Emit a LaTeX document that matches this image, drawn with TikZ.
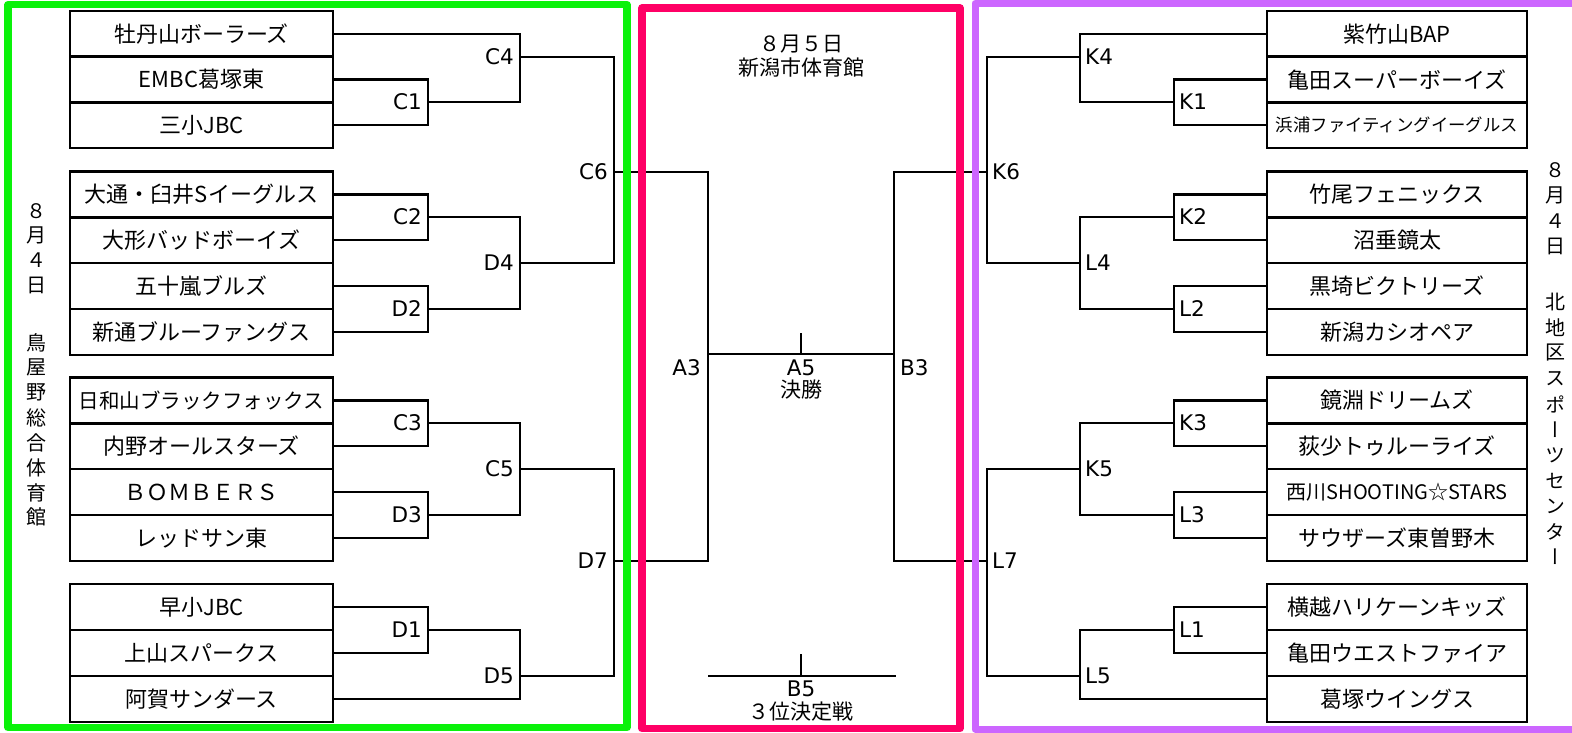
\documentclass[tikz,border=0pt]{standalone}
\usepackage{fontspec}
\setmainfont{Noto Sans CJK JP}
\newfontfamily\vfont[RawFeature=+vert]{Noto Sans CJK JP}
\newfontfamily\labfont{DejaVu Sans}
\definecolor{frgreen}{RGB}{10,242,10}
\definecolor{frpink}{RGB}{255,0,102}
\definecolor{frpurple}{RGB}{204,102,255}
\tikzset{
  team/.style={draw, line width=2.6pt, minimum width=263pt, minimum height=45.7pt, inner sep=0pt, font=\fontsize{22}{22}\selectfont},
  teamR/.style={team, minimum width=260pt},
  br/.style={line width=2.6pt},
  lblL/.style={anchor=east, inner sep=0pt, font={\labfont\fontsize{21.5}{21.5}\selectfont}},
  lblR/.style={anchor=west, inner sep=0pt, font={\labfont\fontsize{21.5}{21.5}\selectfont}},
  ctext/.style={inner sep=0pt, font=\fontsize{21}{21}\selectfont},
  clab/.style={inner sep=0pt, font={\labfont\fontsize{21.5}{21.5}\selectfont}},
  vchar/.style={inner sep=0pt, font={\vfont\fontsize{20}{20}\selectfont}},
  frame/.style={line width=7.3pt, line join=round}
}
\begin{document}
\begin{tikzpicture}[x=1pt,y=-1pt]
\useasboundingbox (0,0) rectangle (1572,732);
% ---------- left teams
\node[team] (tl1) at (201.5,34) {牡丹山ボーラーズ};
\node[team] (tl2) at (201.5,79.5) {EMBC葛塚東};
\node[team] (tl3) at (201.5,125) {三小JBC};
\node[team] (tl4) at (201.5,194.5) {大通・臼井Sイーグルス};
\node[team] (tl5) at (201.5,240) {大形バッドボーイズ};
\node[team] (tl6) at (201.5,286) {五十嵐ブルズ};
\node[team] (tl7) at (201.5,332) {新通ブルーファングス};
\node[team, font=\fontsize{20.5}{20.5}\selectfont] (tl8) at (201.5,400.5) {日和山ブラックフォックス};
\node[team] (tl9) at (201.5,446) {内野オールスターズ};
\node[team] (tl10) at (201.5,492) {ＢＯＭＢＥＲＳ};
\node[team] (tl11) at (201.5,538) {レッドサン東};
\node[team] (tl12) at (201.5,607) {早小JBC};
\node[team] (tl13) at (201.5,653) {上山スパークス};
\node[team] (tl14) at (201.5,699) {阿賀サンダース};
% ---------- right teams
\node[teamR] (tr1) at (1397,34) {紫竹山BAP};
\node[teamR] (tr2) at (1397,79.5) {亀田スーパーボーイズ};
\node[teamR, font=\fontsize{17.4}{17.4}\selectfont] (tr3) at (1397,125) {浜浦ファイティングイーグルス};
\node[teamR] (tr4) at (1397,194.5) {竹尾フェニックス};
\node[teamR] (tr5) at (1397,240) {沼垂鏡太};
\node[teamR] (tr6) at (1397,286) {黒埼ビクトリーズ};
\node[teamR] (tr7) at (1397,332) {新潟カシオペア};
\node[teamR] (tr8) at (1397,400.5) {鏡淵ドリームズ};
\node[teamR] (tr9) at (1397,446) {荻少トゥルーライズ};
\node[teamR, font=\fontsize{20}{20}\selectfont] (tr10) at (1397,492) {西川SHOOTING☆STARS};
\node[teamR] (tr11) at (1397,538) {サウザーズ東曽野木};
\node[teamR] (tr12) at (1397,607) {横越ハリケーンキッズ};
\node[teamR] (tr13) at (1397,653) {亀田ウエストファイア};
\node[teamR] (tr14) at (1397,699) {葛塚ウイングス};
% ---------- junctions left
\coordinate (C1) at (428,102);
\coordinate (C4) at (520,57);
\coordinate (C2) at (428,217);
\coordinate (D2) at (428,309);
\coordinate (D4) at (520,263);
\coordinate (C6) at (614,172);
\coordinate (C3) at (428,423);
\coordinate (D3) at (428,515);
\coordinate (C5) at (520,469);
\coordinate (D1) at (428,630);
\coordinate (D5) at (520,676);
\coordinate (D7) at (614,561);
% ---------- junctions centre
\coordinate (A3) at (708,354);
\coordinate (B3) at (894,354);
\coordinate (A5) at (801,354);
\coordinate (A5t) at (801,333);
\coordinate (B5l) at (708,676);
\coordinate (B5r) at (896,676);
\coordinate (B5) at (801,676);
\coordinate (B5t) at (801,654);
% ---------- junctions right
\coordinate (K1) at (1174,102);
\coordinate (K4) at (1080,57);
\coordinate (K2) at (1174,217);
\coordinate (L2) at (1174,309);
\coordinate (L4) at (1080,263);
\coordinate (K6) at (987,172);
\coordinate (K3) at (1174,423);
\coordinate (L3) at (1174,515);
\coordinate (K5) at (1080,469);
\coordinate (L1) at (1174,630);
\coordinate (L5) at (1080,676);
\coordinate (L7) at (987,561);
% ---------- left brackets
\draw[br] (tl2.east) -| (C1) |- (tl3.east);
\draw[br] (tl1.east) -| (C4) |- (C1);
\draw[br] (tl4.east) -| (C2) |- (tl5.east);
\draw[br] (tl6.east) -| (D2) |- (tl7.east);
\draw[br] (C2) -| (D4) |- (D2);
\draw[br] (C4) -| (C6) |- (D4);
\draw[br] (tl8.east) -| (C3) |- (tl9.east);
\draw[br] (tl10.east) -| (D3) |- (tl11.east);
\draw[br] (C3) -| (C5) |- (D3);
\draw[br] (tl12.east) -| (D1) |- (tl13.east);
\draw[br] (D1) -| (D5) |- (tl14.east);
\draw[br] (C5) -| (D7) |- (D5);
% ---------- centre
\draw[br] (C6) -| (A3) |- (D7);
\draw[br] (K6) -| (B3) |- (L7);
\draw[br] (A3) -- (B3);
\draw[br] (A5) -- (A5t);
\draw[br] (B5l) -- (B5r);
\draw[br] (B5) -- (B5t);
% ---------- right brackets
\draw[br] (tr2.west) -| (K1) |- (tr3.west);
\draw[br] (tr1.west) -| (K4) |- (K1);
\draw[br] (tr4.west) -| (K2) |- (tr5.west);
\draw[br] (tr6.west) -| (L2) |- (tr7.west);
\draw[br] (K2) -| (L4) |- (L2);
\draw[br] (K4) -| (K6) |- (L4);
\draw[br] (tr8.west) -| (K3) |- (tr9.west);
\draw[br] (tr10.west) -| (L3) |- (tr11.west);
\draw[br] (K3) -| (K5) |- (L3);
\draw[br] (tr12.west) -| (L1) |- (tr13.west);
\draw[br] (L1) -| (L5) |- (tr14.west);
\draw[br] (K5) -| (L7) |- (L5);
% ---------- labels left
\node[lblL, xshift=-6pt] (lC1) at (C1) {C1};
\node[lblL, xshift=-6pt] (lC4) at (C4) {C4};
\node[lblL, xshift=-6pt] (lC2) at (C2) {C2};
\node[lblL, xshift=-6pt] (lD2) at (D2) {D2};
\node[lblL, xshift=-6pt] (lD4) at (D4) {D4};
\node[lblL, xshift=-6pt] (lC6) at (C6) {C6};
\node[lblL, xshift=-6pt] (lC3) at (C3) {C3};
\node[lblL, xshift=-6pt] (lD3) at (D3) {D3};
\node[lblL, xshift=-6pt] (lC5) at (C5) {C5};
\node[lblL, xshift=-6pt] (lD1) at (D1) {D1};
\node[lblL, xshift=-6pt] (lD5) at (D5) {D5};
\node[lblL, xshift=-6pt] (lD7) at (D7) {D7};
% ---------- labels right
\node[lblR, xshift=5pt] (lK1) at (K1) {K1};
\node[lblR, xshift=5pt] (lK4) at (K4) {K4};
\node[lblR, xshift=5pt] (lK2) at (K2) {K2};
\node[lblR, xshift=5pt] (lL2) at (L2) {L2};
\node[lblR, xshift=5pt] (lL4) at (L4) {L4};
\node[lblR, xshift=5pt] (lK6) at (K6) {K6};
\node[lblR, xshift=5pt] (lK3) at (K3) {K3};
\node[lblR, xshift=5pt] (lL3) at (L3) {L3};
\node[lblR, xshift=5pt] (lK5) at (K5) {K5};
\node[lblR, xshift=5pt] (lL1) at (L1) {L1};
\node[lblR, xshift=5pt] (lL5) at (L5) {L5};
\node[lblR, xshift=5pt] (lL7) at (L7) {L7};
% ---------- centre texts
\node[lblL] (lA3) at (701,368) {A3};
\node[lblR] (lB3) at (900,368) {B3};
\node[clab] (lA5) at (801,368) {A5};
\node[ctext] (lfin) at (801,390) {決勝};
\node[clab] (lB5) at (801,689) {B5};
\node[ctext] (l3rd) at (801,712) {３位決定戦};
\node[ctext] (ldate) at (801,44) {８月５日};
\node[ctext] (lvenue) at (801,68) {新潟市体育館};
% ---------- vertical texts
\foreach \c/\y [count=\i] in {８/211,月/235.8,４/260.6,日/285.4,鳥/343,屋/367.9,野/392.8,総/417.7,合/442.6,体/467.5,育/492.4,館/517.3}
  \node[vchar] (vl\i) at (36,\y) {\c};
\foreach \c/\y [count=\i] in {８/170,月/195.4,４/220.8,日/246.2,北/302,地/327.5,区/353,ス/378.5,ポ/404,ー/429.5,ツ/455,セ/480.5,ン/506,タ/531.5,ー/557}
  \node[vchar] (vr\i) at (1555,\y) {\c};
% ---------- frames
\draw[frame, frgreen] (8,4.7) rectangle (627,727.5);
\draw[frame, frpink] (642,8) rectangle (960,728.5);
\draw[frame, frpurple, line width=7pt] (975,3.3) rectangle (1600,729);
\end{tikzpicture}
\end{document}
